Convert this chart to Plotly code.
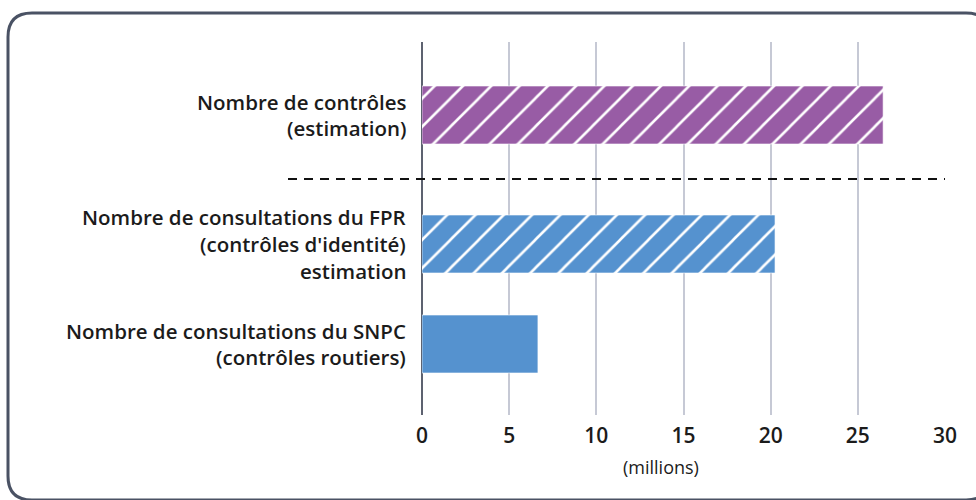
import plotly.graph_objects as go

# ---- data ----
categories = [
    ["Nombre de consultations du SNPC", "(contrôles routiers)"],
    ["Nombre de consultations du FPR", "(contrôles d'identité)", "estimation"],
    ["Nombre de contrôles", "(estimation)"],
]
values = [6.65, 20.25, 26.45]          # millions
positions = [0, 1, 2.29]               # vertical slots (gap before last for separator)
colors = ["#5592cf", "#5592cf", "#985ca5"]
hatched = [False, True, True]
separator_y = 1.65
x_ticks = [0, 5, 10, 15, 20, 25, 30]
x_title = "(millions)"

FONT = "Open Sans"
TXT = "#1b1b1b"

W, H = 976, 500
L, R, T, B = 422, 31, 42, 85
pw, ph = W - L - R, H - T - B

fig = go.Figure()
for v, p, c, h in zip(values, positions, colors, hatched):
    fig.add_trace(go.Bar(
        x=[v], y=[p], orientation="h", width=0.58,
        marker=dict(
            color=c,
            line=dict(color="rgba(255,255,255,0.6)", width=1),
            pattern=dict(shape="/" if h else "", fgcolor="white", bgcolor=c,
                         size=20, solidity=0.13, fillmode="replace"),
        ),
        hoverinfo="skip", showlegend=False,
    ))


def px(x):  # screen pixel -> paper
    return (x - L) / pw


def py(y):
    return (H - B - y) / ph


annotations = []
LH = 26.8
for lines, p in zip(categories, positions):
    n = len(lines)
    for i, line in enumerate(lines):
        annotations.append(dict(
            x=0, xref="paper", y=p, yref="y", text=line, showarrow=False,
            xanchor="right", yanchor="middle", xshift=-14,
            yshift=((n - 1) / 2 - i) * LH,
            font=dict(family=FONT, size=20.5, color=TXT, weight=600),
        ))
annotations.append(dict(
    x=px(661), xref="paper", y=py(467), yref="paper",
    text=x_title, showarrow=False, xanchor="center", yanchor="middle",
    font=dict(family=FONT, size=18, color=TXT),
))

# rounded border (pixel geometry converted to paper coords)
x0, y0, x1, y1, r = 8, 13, 990, 500, 24
path = (f"M {px(x0 + r)} {py(y0)} L {px(x1 - r)} {py(y0)} "
        f"Q {px(x1)} {py(y0)} {px(x1)} {py(y0 + r)} "
        f"L {px(x1)} {py(y1 - r)} Q {px(x1)} {py(y1)} {px(x1 - r)} {py(y1)} "
        f"L {px(x0 + r)} {py(y1)} Q {px(x0)} {py(y1)} {px(x0)} {py(y1 - r)} "
        f"L {px(x0)} {py(y0 + r)} Q {px(x0)} {py(y0)} {px(x0 + r)} {py(y0)} Z")

shapes = [
    dict(type="path", path=path, xref="paper", yref="paper",
         line=dict(color="#4a5264", width=3), fillcolor="rgba(0,0,0,0)", layer="above"),
    dict(type="line", xref="paper", yref="y", x0=px(288), x1=1,
         y0=separator_y, y1=separator_y,
         line=dict(color="#111111", width=2, dash="9px,7px")),
]

fig.update_layout(
    width=W, height=H,
    margin=dict(l=L, r=R, t=T, b=B),
    paper_bgcolor="white", plot_bgcolor="white",
    barmode="overlay",
    annotations=annotations, shapes=shapes,
    xaxis=dict(
        range=[0, 30], tickvals=x_ticks, showgrid=True,
        gridcolor="#c6c9d5", gridwidth=1.5,
        zeroline=True, zerolinecolor="#5d6270", zerolinewidth=2,
        showline=False, ticks="", ticklabelstandoff=6,
        tickfont=dict(family=FONT, size=21, color=TXT, weight=600),
        fixedrange=True,
    ),
    yaxis=dict(
        range=[-0.71, 3.02], showticklabels=False, showgrid=False,
        zeroline=False, showline=False, fixedrange=True,
    ),
)

fig.write_html(
    "out.html",
    config={"displayModeBar": False},
    post_script="document.body.style.margin='0';document.body.style.overflow='hidden';",
)
